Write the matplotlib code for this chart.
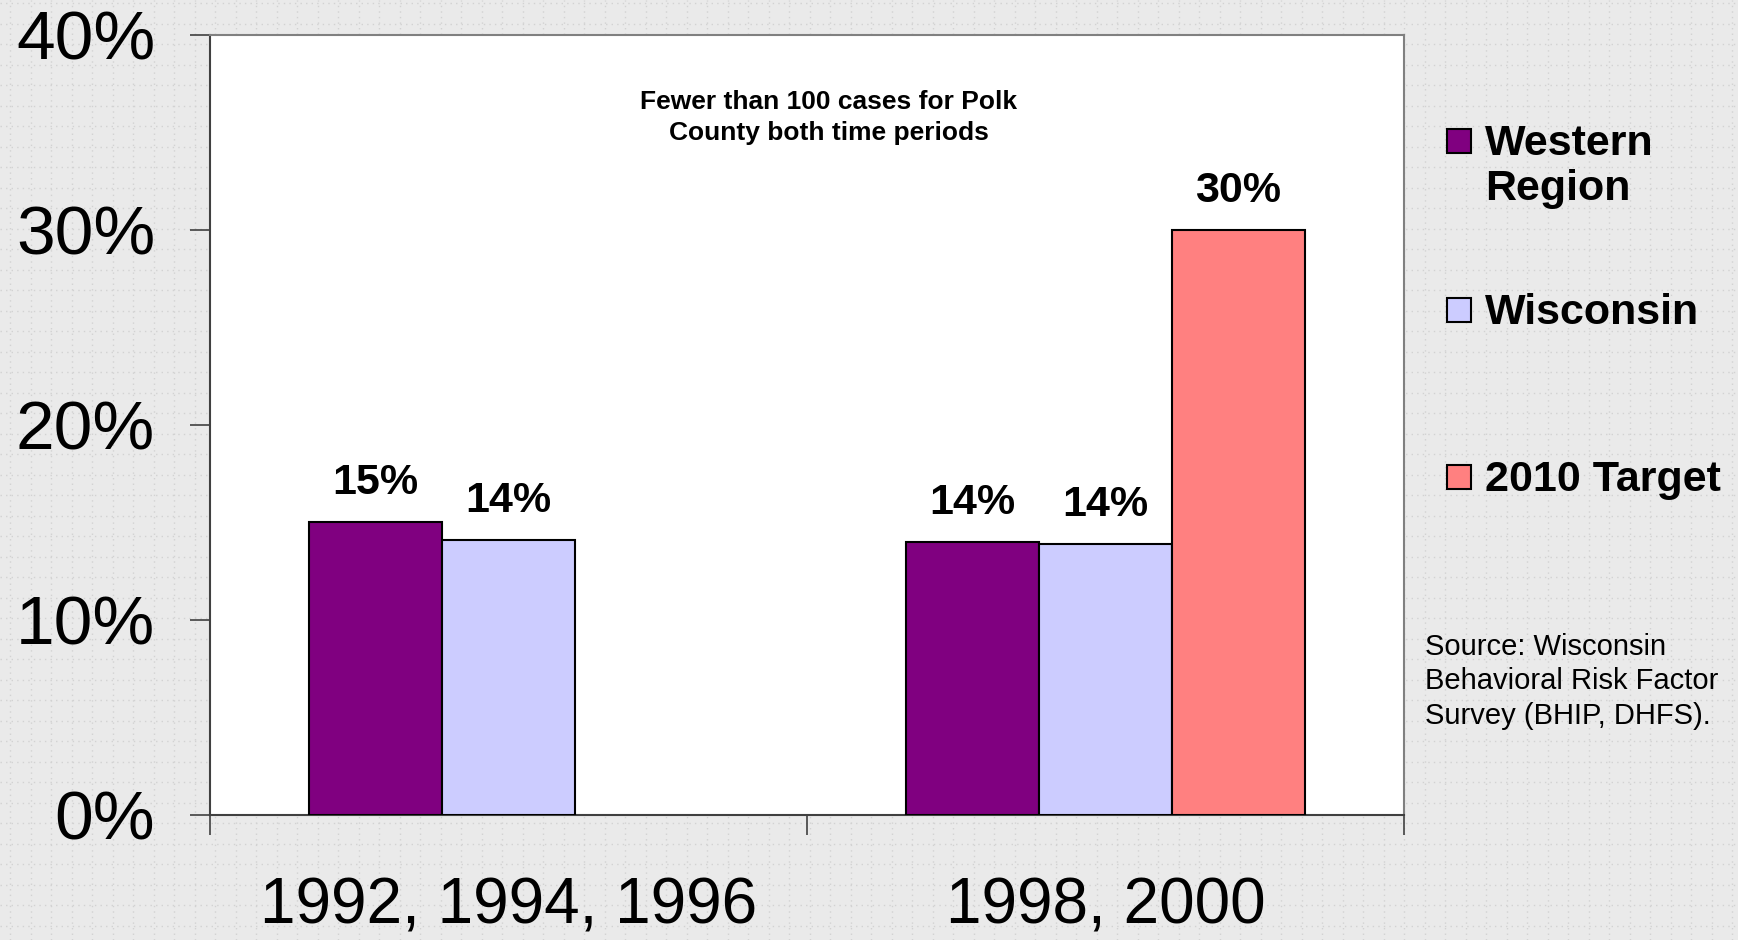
import matplotlib
matplotlib.use("Agg")

import matplotlib.pyplot as plt
from matplotlib.patches import Rectangle
import numpy as np

# data
periods = ["1992, 1994, 1996", "1998, 2000"]
series = ["Western\nRegion", "Wisconsin", "2010 Target"]
western = [15.0, 14.0]
wisconsin = [14.1, 13.9]
target = [np.nan, 30.0]
labels_western = ["15%", "14%"]
labels_wisconsin = ["14%", "14%"]
labels_target = ["", "30%"]
colors = ["#800080", "#CCCCFF", "#FF8080"]
yticks = [0, 10, 20, 30, 40]

plt.rcParams["font.family"] = ["Liberation Sans", "DejaVu Sans"]

fig = plt.figure(figsize=(17.38, 9.4), dpi=100)
fig.patch.set_facecolor("#eaeaea")

# dotted background pattern
bg = fig.add_axes([0, 0, 1, 1], zorder=-5)
bg.set_xlim(0, 1738)
bg.set_ylim(940, 0)
bg.set_facecolor("#eaeaea")
for gx in np.arange(10, 1738, 20.5):
    bg.axvline(gx, color="#d2d2d2", lw=1, ls=(0, (1, 3)))
for gy in np.arange(3, 940, 20.5):
    bg.axhline(gy, color="#d2d2d2", lw=1, ls=(0, (1, 3)))
bg.axis("off")

ax = fig.add_axes([0.1208, 0.133, 0.687, 0.8298])
ax.set_facecolor("white")

x = np.arange(len(periods))
w = 0.2228
all_vals = [western, wisconsin, target]
all_labels = [labels_western, labels_wisconsin, labels_target]
for i, (vals, labs) in enumerate(zip(all_vals, all_labels)):
    pos = x + (i - 1) * w
    ax.bar(pos, vals, width=w, color=colors[i], edgecolor="black", linewidth=1.5, zorder=3)
    for p, v, lab in zip(pos, vals, labs):
        if np.isnan(v) or not lab:
            continue
        ax.annotate(lab, (p, v), xytext=(0, 19), textcoords="offset pixels",
                    ha="center", va="bottom", fontsize=31, fontweight="bold")

ax.set_xlim(-0.5, 1.5)
ax.set_ylim(0, 40)

ax.set_yticks(yticks)
ax.set_yticklabels([f"{t}%" for t in yticks])
ax.tick_params(axis="y", direction="out", length=14.4, width=1.2, color="#404040",
               labelsize=50, pad=25)

ax.set_xticks([-0.5, 0.5, 1.5])
ax.set_xticklabels([])
ax.tick_params(axis="x", which="major", direction="out", length=14.4, width=1.2, color="#404040")
ax.set_xticks(x, minor=True)
ax.set_xticklabels(periods, minor=True)
ax.tick_params(axis="x", which="minor", length=0, labelsize=46, pad=44)

for s in ["left", "bottom"]:
    ax.spines[s].set_color("#404040")
    ax.spines[s].set_linewidth(1.5)
for s in ["top", "right"]:
    ax.spines[s].set_color("#808080")
    ax.spines[s].set_linewidth(1.5)

ax.text(0.518, 0.894, "Fewer than 100 cases for Polk\nCounty both time periods",
        transform=ax.transAxes, ha="center", va="center", fontsize=19,
        fontweight="bold", linespacing=1.34)

# legend drawn by hand
leg_y = [141, 310, 477]
for name, col, ly in zip(series, colors, leg_y):
    fig.patches.append(Rectangle((1447 / 1738, 1 - (ly + 12) / 940), 24 / 1738, 24 / 940,
                                 transform=fig.transFigure, facecolor=col,
                                 edgecolor="black", linewidth=1.5))
    fig.text(1485 / 1738, 1 - (ly - 17) / 940, name, ha="left", va="top",
             fontsize=31, fontweight="bold", linespacing=1.16)

fig.text(1425 / 1738, 1 - 633 / 940, "Source: Wisconsin\nBehavioral Risk Factor\nSurvey (BHIP, DHFS).",
         ha="left", va="top", fontsize=21, linespacing=1.29)

fig.savefig("out.png", dpi=100, facecolor=fig.get_facecolor())
